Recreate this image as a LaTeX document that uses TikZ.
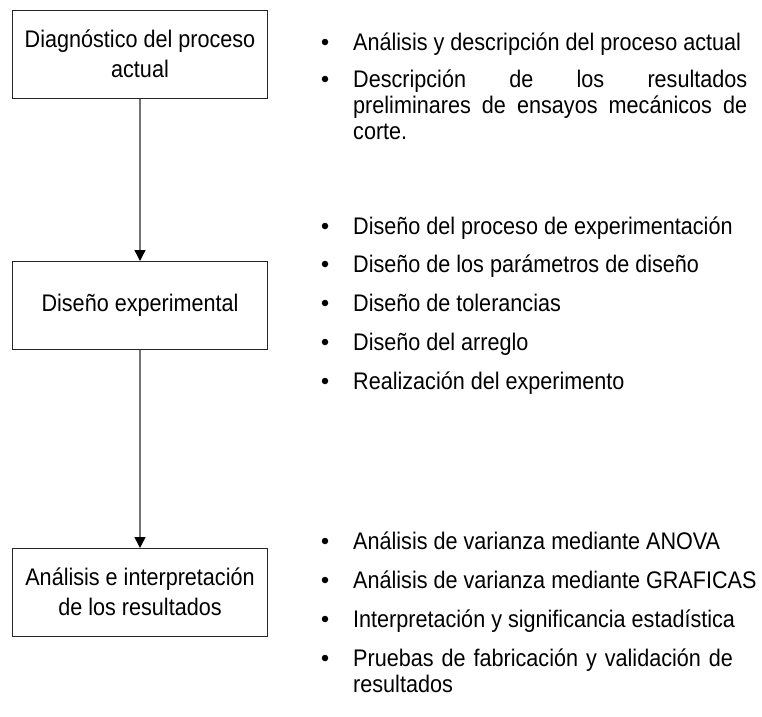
\documentclass[tikz,border=0pt]{standalone}
\usepackage{fontspec}
\setmainfont[FakeStretch=0.9]{Liberation Sans}
\usetikzlibrary{arrows.meta}
\begin{document}
\begin{tikzpicture}[x=1pt,y=-1pt,
  stagebox/.style={draw=black!85, line width=1pt, minimum width=255pt, minimum height=88pt, inner sep=0pt, align=center, font=\fontsize{24}{30}\selectfont},
  conn/.style={draw=black!55, line width=1.4pt, -{Triangle[width=11pt,length=11pt,black]}},
  bul/.style={circle, fill=black, inner sep=0pt, minimum size=6.5pt},
  itemtext/.style={anchor=base west, inner sep=0pt, font=\fontsize{24}{26}\selectfont, align=left}
]
\useasboundingbox (0,0) rectangle (762,716);
\fill[white] (0,0) rectangle (762,716);

% stage boxes
\node[stagebox] (diag) at (140,54.5) {\smash{Diagnóstico del proceso}\rule{0pt}{16pt}\\actual};
\node[stagebox] (dise) at (140,305.5) {Diseño experimental};
\node[stagebox] (anal) at (140,592.5) {\smash{Análisis e interpretación}\rule{0pt}{16pt}\\de los resultados};
\draw[conn] (diag) -- (dise);
\draw[conn] (dise) -- (anal);

% list 1
\node[bul] (b11) at (325,42) {};
\node[itemtext] (t11) at (353,50) {Análisis y descripción del proceso actual};
\node[bul] (b12) at (325,79) {};
\node[itemtext, text width=394pt] (t12) at (353,87) {\leavevmode\hbox to 394pt{Descripción\hfill de\hfill los\hfill resultados}\\\leavevmode\hbox to 394pt{preliminares\hfill de\hfill ensayos\hfill mecánicos\hfill de}\\corte.};

% list 2
\node[bul] (b21) at (325,226) {};
\node[itemtext] (t21) at (353,234) {Diseño del proceso de experimentación};
\node[bul] (b22) at (325,264) {};
\node[itemtext] (t22) at (353,272) {Diseño de los parámetros de diseño};
\node[bul] (b23) at (325,303) {};
\node[itemtext] (t23) at (353,311) {Diseño de tolerancias};
\node[bul] (b24) at (325,342) {};
\node[itemtext] (t24) at (353,350) {Diseño del arreglo};
\node[bul] (b25) at (325,381) {};
\node[itemtext] (t25) at (353,389) {Realización del experimento};

% list 3
\node[bul] (b31) at (325,541) {};
\node[itemtext] (t31) at (353,549) {Análisis de varianza mediante ANOVA};
\node[bul] (b32) at (325,580) {};
\node[itemtext] (t32) at (353,588) {Análisis de varianza mediante GRAFICAS};
\node[bul] (b33) at (325,619) {};
\node[itemtext] (t33) at (353,627) {Interpretación y significancia estadística};
\node[bul] (b34) at (325,658) {};
\node[itemtext, text width=394pt] (t34) at (353,666) {Pruebas de fabricación y validación de\\resultados};
\end{tikzpicture}
\end{document}
